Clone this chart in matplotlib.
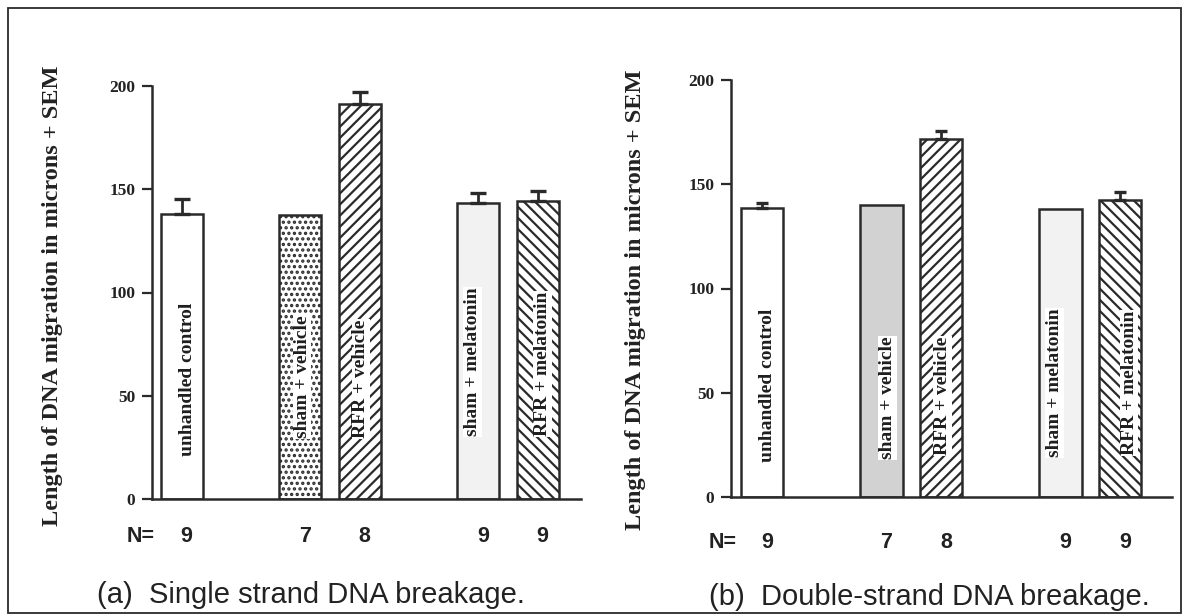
import matplotlib
matplotlib.use("Agg")
import matplotlib.pyplot as plt
from matplotlib.transforms import blended_transform_factory
from matplotlib.patches import Rectangle

# ---------------- data ----------------
categories = ["unhandled control", "sham + vehicle", "RFR + vehicle",
              "sham + melatonin", "RFR + melatonin"]
values_a = [138, 137.5, 191.5, 143.5, 144.5]
sem_a = [7.5, 0, 5.5, 4.5, 4.5]
values_b = [138.5, 140, 171.5, 138, 142.5]
sem_b = [2.4, 0, 3.8, 0, 3.7]
n_values = ["9", "7", "8", "9", "9"]
yticks = [0, 50, 100, 150, 200]
ylabel = "Length of DNA migration in microns + SEM"
captions = ["(a)  Single strand DNA breakage.", "(b)  Double-strand DNA breakage."]

# ---------------- layout / style ----------------
W, H = 1183, 616
INK = "#2a2a2a"
plt.rcParams["hatch.linewidth"] = 1.6
plt.rcParams["hatch.color"] = INK

x_pos = [0, 2, 3, 5, 6]
fills = ["white", "white", "white", "#f2f2f2", "white"]
hatches_a = [None, "...", "///", None, "\\\\\\"]
fills_b = ["white", "#d2d2d2", "white", "#f2f2f2", "white"]
hatches_b = [None, None, "///", None, "\\\\\\"]

def fx(px):
    return px / W

def fy(py):
    return 1 - py / H

fig = plt.figure(figsize=(W / 100, H / 100), dpi=100)

# outer frame
fig.add_artist(Rectangle((fx(8), fy(613)), fx(1181) - fx(8), fy(8) - fy(613),
                         transform=fig.transFigure, fill=False,
                         edgecolor=INK, linewidth=1.3))

panels = [
    dict(rect=(fx(152), fy(499), fx(581) - fx(152), fy(86) - fy(499)),
         xlim=(-0.5, 6.73), vals=values_a, sem=sem_a, fills=fills,
         hatches=hatches_a, label_y=[21, 29.5, 29.5, 30.5, 30.5],
         ylab=(53, 296), n_y=536, n_x=141, cap=(97, 595), capsize=6,
         label_dx=[0.1, 0.03, 0.02, -0.1, 0.08]),
    dict(rect=(fx(731), fy(497), fx(1172) - fx(731), fy(80) - fy(497)),
         xlim=(-0.52, 6.87), vals=values_b, sem=sem_b, fills=fills_b,
         hatches=hatches_b, label_y=[17, 18, 20, 19, 20],
         ylab=(635, 300), n_y=542, n_x=723, cap=(709, 597), capsize=4.5,
         label_dx=[0.1, 0.1, 0.02, -0.1, 0.15]),
]

serif_bold = dict(family="Liberation Serif", weight="bold")

for k, p in enumerate(panels):
    ax = fig.add_axes(p["rect"])
    ax.set_xlim(*p["xlim"])
    ax.set_ylim(0, 200)
    for i, (x, v) in enumerate(zip(x_pos, p["vals"])):
        ax.bar(x, v, width=0.71, color=p["fills"][i], edgecolor=INK,
               linewidth=1.8, hatch=p["hatches"][i], zorder=2)
    errs = [(x, v, e) for x, v, e in zip(x_pos, p["vals"], p["sem"]) if e > 0]
    ax.errorbar([e[0] for e in errs], [e[1] for e in errs],
                yerr=[[0] * len(errs), [e[2] for e in errs]],
                fmt="none", ecolor=INK, elinewidth=2.0,
                capsize=p["capsize"], capthick=2.4, zorder=3)
    for i, (x, name) in enumerate(zip(x_pos, categories)):
        ax.text(x + p["label_dx"][i], p["label_y"][i], name, rotation=90,
                ha="center", va="bottom", fontsize=14, color="#1e1e1e",
                zorder=4,
                bbox=dict(facecolor="white", edgecolor="none", pad=0.6),
                **serif_bold)
    for s in ("top", "right"):
        ax.spines[s].set_visible(False)
    for s in ("left", "bottom"):
        ax.spines[s].set_linewidth(1.8)
        ax.spines[s].set_color(INK)
    ax.set_yticks(yticks)
    ax.set_yticklabels([str(t) for t in yticks], fontsize=12.5,
                       color="#222222", **serif_bold)
    ax.tick_params(axis="y", direction="out", length=7, width=1.6,
                   color=INK, pad=5)
    ax.set_xticks([])
    ax.set_facecolor("none")

    # y label
    fig.text(fx(p["ylab"][0]), fy(p["ylab"][1]), ylabel, rotation=90,
             ha="center", va="center", fontsize=17.5, color="#222222",
             **serif_bold)
    # N row
    tr = blended_transform_factory(ax.transData, fig.transFigure)
    fig.text(fx(p["n_x"]), fy(p["n_y"]), "N=", ha="center", va="center",
             fontsize=15.5, weight="bold", family="Liberation Sans",
             color="#222222")
    for x, n in zip(x_pos, n_values):
        ax.text(x + 0.08, fy(p["n_y"]), n, transform=tr, ha="center",
                va="center", fontsize=15.5, weight="bold",
                family="Liberation Sans", color="#222222")
    # caption
    fig.text(fx(p["cap"][0]), fy(p["cap"][1]), captions[k],
             ha="left", va="center", fontsize=21, family="Liberation Sans",
             color="#222222")

fig.savefig("out.png", dpi=100, facecolor="white")
